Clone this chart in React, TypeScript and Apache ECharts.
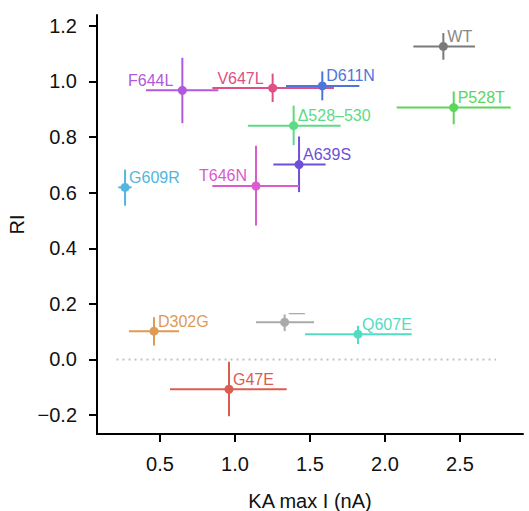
import React, { useEffect, useRef } from "react";
import * as echarts from "echarts";

const names = ["WT", "F644L", "V647L", "D611N", "P528T", "Δ528–530", "A639S", "T646N", "G609R", "D302G", "—", "Q607E", "G47E"];
const xVals = [2.389, 0.649, 1.251, 1.582, 2.458, 1.391, 1.427, 1.14, 0.267, 0.46, 1.331, 1.82, 0.96];
const yVals = [1.126, 0.968, 0.976, 0.984, 0.906, 0.841, 0.701, 0.624, 0.619, 0.102, 0.134, 0.091, -0.107];
const xLow = [2.189, 0.407, 0.849, 1.34, 2.078, 1.087, 1.256, 0.849, 0.222, 0.293, 1.14, 1.467, 0.567];
const xHigh = [2.6, 0.889, 1.66, 1.829, 2.838, 1.704, 1.604, 1.427, 0.311, 0.627, 1.527, 2.178, 1.345];
const yLow = [1.078, 0.85, 0.926, 0.932, 0.846, 0.771, 0.602, 0.482, 0.553, 0.05, 0.102, 0.056, -0.204];
const yHigh = [1.174, 1.085, 1.028, 1.036, 0.964, 0.913, 0.802, 0.769, 0.683, 0.152, 0.162, 0.121, -0.008];
const colors = ["#7a7a7a", "#b159dd", "#de5085", "#4f75dc", "#5cd65a", "#5cdb84", "#6f4fd9", "#d95bcc", "#52b6de", "#dd9b55", "#aaaaaa", "#52dcc2", "#dd5c52"];
const labelLeft = [false, true, true, false, false, false, false, true, false, false, false, false, false];
const xTicks = [0.5, 1.0, 1.5, 2.0, 2.5];
const yTicks = [-0.2, 0.0, 0.2, 0.4, 0.6, 0.8, 1.0, 1.2];
const zeroLine = [[0.21, 0], [2.74, 0]];

const FONT = "'Liberation Sans', Arial, Helvetica, sans-serif";

export default function App() {
  const ref = useRef<HTMLDivElement>(null);
  useEffect(() => {
    if (!ref.current) return;
    const chart = echarts.init(ref.current, null, { renderer: "svg" });
    const data = names.map((n, i) => [xVals[i], yVals[i], xLow[i], xHigh[i], yLow[i], yHigh[i], i]);
    chart.setOption({
      animation: false,
      grid: { left: 97, right: 6, top: 15, bottom: 77, outerBoundsMode: "none", containLabel: false },
      xAxis: {
        type: "value",
        min: 0.08,
        max: 2.92,
        name: "KA max I (nA)",
        nameLocation: "middle",
        nameGap: 57,
        nameTextStyle: { fontSize: 20, color: "#111", fontFamily: FONT },
        splitLine: { show: false },
        axisLine: { show: true, onZero: false, lineStyle: { color: "#000", width: 2 } },
        axisTick: { show: true, customValues: xTicks, length: 8, lineStyle: { color: "#000", width: 2 } },
        axisLabel: { customValues: xTicks, fontSize: 20, color: "#111", fontFamily: FONT, margin: 20, formatter: (v: number) => v.toFixed(1) },
      },
      yAxis: {
        type: "value",
        min: -0.268,
        max: 1.239,
        name: "RI",
        nameLocation: "middle",
        nameGap: 65,
        nameTextStyle: { fontSize: 20, color: "#111", fontFamily: FONT },
        splitLine: { show: false },
        axisLine: { show: true, onZero: false, lineStyle: { color: "#000", width: 2 } },
        axisTick: { show: true, customValues: yTicks, length: 8, lineStyle: { color: "#000", width: 2 } },
        axisLabel: {
          customValues: yTicks,
          fontSize: 20,
          color: "#111",
          fontFamily: FONT,
          margin: 20,
          formatter: (v: number) => (v < 0 ? "\u2212" + Math.abs(v).toFixed(1) : v.toFixed(1)),
        },
      },
      series: [
        {
          type: "line",
          data: zeroLine,
          symbol: "none",
          silent: true,
          lineStyle: { color: "#c4c4c4", width: 2, type: [2, 4] },
          z: 1,
        },
        {
          type: "custom",
          data,
          z: 2,
          renderItem: (params: any, api: any) => {
            const i = api.value(6);
            const c = api.coord([api.value(0), api.value(1)]);
            const xl = api.coord([api.value(2), api.value(1)]);
            const xh = api.coord([api.value(3), api.value(1)]);
            const yl = api.coord([api.value(0), api.value(4)]);
            const yh = api.coord([api.value(0), api.value(5)]);
            const col = colors[i];
            const left = labelLeft[i];
            return {
              type: "group",
              children: [
                { type: "line", shape: { x1: xl[0], y1: xl[1], x2: xh[0], y2: xh[1] }, style: { stroke: col, lineWidth: 2 } },
                { type: "line", shape: { x1: yl[0], y1: yl[1], x2: yh[0], y2: yh[1] }, style: { stroke: col, lineWidth: 2 } },
                { type: "circle", shape: { cx: c[0], cy: c[1], r: 4.5 }, style: { fill: col } },
                {
                  type: "text",
                  x: left ? c[0] - 9 : c[0] + 4,
                  y: c[1] - 2,
                  style: {
                    text: names[i],
                    fill: i === 0 ? "#888888" : col,
                    font: `16px ${FONT}`,
                    align: left ? "right" : "left",
                    verticalAlign: "bottom",
                  },
                },
              ],
            };
          },
        },
      ],
    });
    return () => chart.dispose();
  }, []);
  return <div ref={ref} style={{ width: 529, height: 511, position: "absolute", left: 0, top: 0 }} />;
}
